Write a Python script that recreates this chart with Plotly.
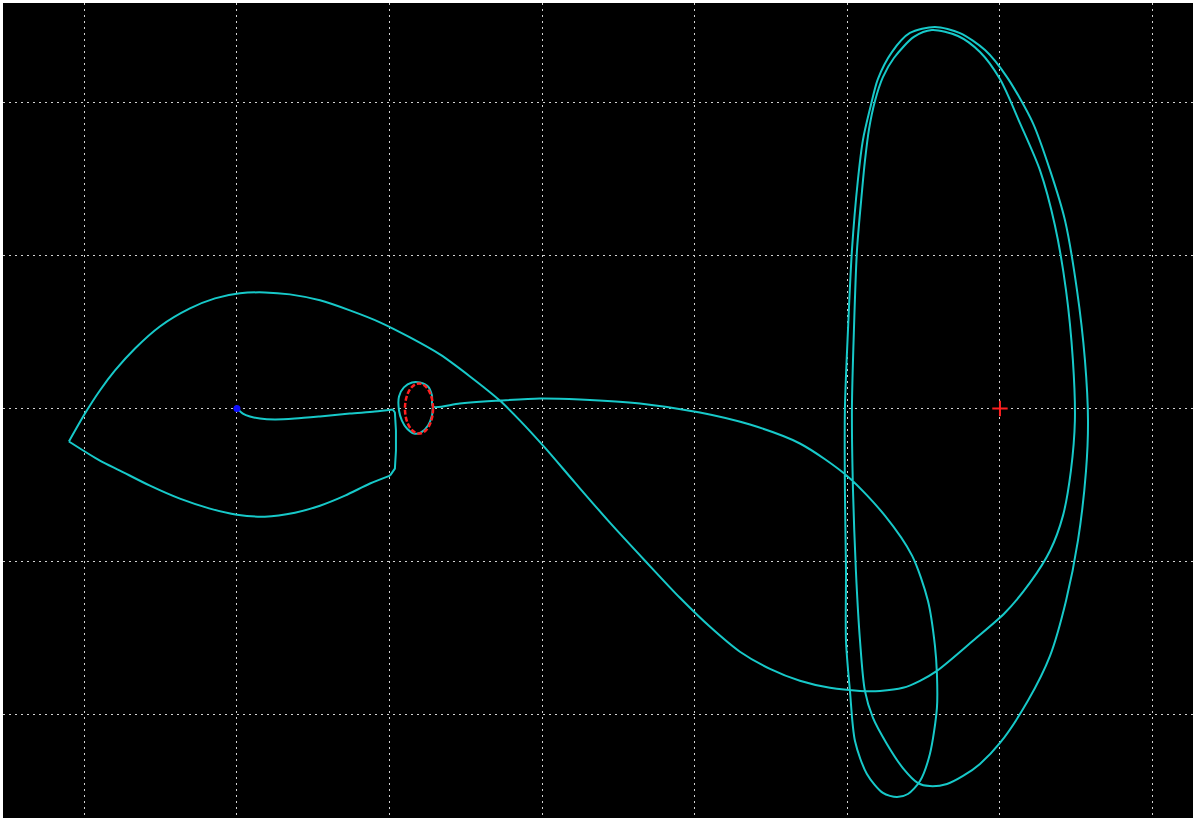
import plotly.graph_objects as go

# Trajectory legs in the rotating frame (grid unit = 1), Earth at origin.
# Leg 1: departure from Earth towards the parking orbit
leg1_x = [0.000, 0.039, 0.085, 0.151, 0.249, 0.380, 0.544, 0.740, 0.904, 1.022]
leg1_y = [0.000, -0.033, -0.052, -0.066, -0.072, -0.066, -0.052, -0.033, -0.020, -0.007]

# Leg 2: short drop below the orbit
leg2_x = [1.022, 1.035, 1.042, 1.042, 1.035, 1.003]
leg2_y = [-0.007, -0.026, -0.144, -0.275, -0.393, -0.439]

# Leg 3: lower arc back to the westward turning point
leg3_x = [1.003, 0.872, 0.708, 0.544, 0.380, 0.183, 0.000, -0.177, -0.374, -0.570,
          -0.767, -0.898, -1.101]
leg3_y = [-0.439, -0.491, -0.570, -0.636, -0.682, -0.708, -0.695, -0.655, -0.590, -0.505,
          -0.406, -0.341, -0.216]

# Leg 4: upper arc, lunar flyby loops and return to the parking orbit
leg4_x = [
    -1.101, -0.996, -0.898, -0.799, -0.668, -0.505, -0.308, -0.144, 0.020, 0.183, 0.347,
    0.544, 0.740, 0.937, 1.134, 1.330, 1.527, 1.723, 1.855, 2.018, 2.215, 2.444, 2.674,
    2.903, 3.100, 3.296, 3.493, 3.689, 3.886, 4.083, 4.214, 4.364, 4.476, 4.587, 4.823, 5.033,
    5.197, 5.328, 5.413, 5.465, 5.491, 5.478, 5.433, 5.360, 5.262, 5.131, 5.000, 4.869,
    4.725, 4.554,
    4.436, 4.305, 4.233, 4.181, 4.142, 4.115, 4.096, 4.063, 4.043, 4.030, 4.037, 4.056,
    4.083, 4.115, 4.168, 4.259, 4.364, 4.463, 4.541, 4.653, 4.758, 4.869, 5.000, 5.183,
    5.328, 5.433, 5.511, 5.564, 5.577, 5.557, 5.505, 5.426, 5.328, 5.216, 5.046, 4.902,
    4.738, 4.574,
    4.410, 4.292, 4.200, 4.148, 4.102, 4.069, 4.030, 4.004, 3.984, 3.984, 3.991, 3.991,
    4.017, 4.050, 4.128, 4.233, 4.325, 4.397, 4.476, 4.541, 4.587, 4.587, 4.574, 4.528,
    4.424, 4.246, 4.004, 3.689, 3.362, 3.034, 2.641, 2.248, 1.986, 1.723, 1.461, 1.284,
    1.278, 1.252, 1.199, 1.147, 1.094, 1.062, 1.062, 1.081, 1.114, 1.160, 1.206, 1.252,
    1.278, 1.284,
]
leg4_y = [
    -0.216, -0.033, 0.118, 0.249, 0.393, 0.537, 0.655, 0.721, 0.754, 0.760, 0.747,
    0.708, 0.642, 0.564, 0.465, 0.354, 0.210, 0.052, -0.079, -0.256, -0.485, -0.747, -0.996,
    -1.239, -1.429, -1.592, -1.704, -1.782, -1.828, -1.848, -1.848, -1.828, -1.782, -1.717, -1.520, -1.337,
    -1.140, -0.931, -0.701, -0.406, -0.079, 0.315, 0.773, 1.199, 1.560, 1.868, 2.156, 2.333,
    2.438, 2.477,
    2.432, 2.294, 2.169, 2.013, 1.829, 1.619, 1.422, 1.035, 0.511, 0.000, -0.537, -1.062,
    -1.520, -1.848, -2.025, -2.195, -2.353, -2.451, -2.471, -2.457, -2.405, -2.326, -2.189, -1.913,
    -1.619, -1.258, -0.865, -0.406, -0.079, 0.315, 0.773, 1.232, 1.560, 1.868, 2.169, 2.346,
    2.457, 2.497,
    2.458, 2.333, 2.156, 1.960, 1.757, 1.494, 1.035, 0.511, 0.000, -0.537, -1.062, -1.520,
    -1.848, -2.176, -2.392, -2.516, -2.543, -2.523, -2.438, -2.261, -1.959, -1.737, -1.553, -1.258,
    -0.963, -0.701, -0.446, -0.229, -0.105, -0.026, 0.033, 0.059, 0.066, 0.052, 0.033, 0.013,
    0.085, 0.144, 0.170, 0.170, 0.138, 0.079, -0.013, -0.079, -0.131, -0.164, -0.157, -0.111,
    -0.046, 0.013,
]

# Bodies
earth_xy = (0.0, 0.0)
moon_xy = (5.0, 0.0)

# Parking orbit ellipse: centre and semi-axes
orbit_center = (1.193, 0.0)
orbit_radii = (0.092, 0.164)

x_range = [-1.533, 6.265]
y_range = [-2.680, 2.654]

TRAJ_COLOR = "#17c9c9"

fig = go.Figure()

legs = [
    (leg1_x, leg1_y, "spline"),
    (leg2_x, leg2_y, "linear"),
    (leg3_x, leg3_y, "spline"),
    (leg4_x, leg4_y, "spline"),
]
for lx, ly, shape in legs:
    fig.add_trace(go.Scatter(
        x=lx, y=ly, mode="lines",
        line=dict(color=TRAJ_COLOR, width=2, shape=shape, smoothing=0.8),
        hoverinfo="skip", showlegend=False,
    ))

fig.add_trace(go.Scatter(
    x=[earth_xy[0]], y=[earth_xy[1]], mode="markers",
    marker=dict(color="#1010ff", size=7, symbol="circle"),
    showlegend=False,
))

fig.add_trace(go.Scatter(
    x=[moon_xy[0]], y=[moon_xy[1]], mode="markers",
    marker=dict(color="#ff2020", size=11, symbol="cross-thin",
                line=dict(color="#ff2020", width=2)),
    showlegend=False,
))

fig.add_shape(
    type="circle", xref="x", yref="y", layer="above",
    x0=orbit_center[0] - orbit_radii[0], x1=orbit_center[0] + orbit_radii[0],
    y0=orbit_center[1] - orbit_radii[1], y1=orbit_center[1] + orbit_radii[1],
    line=dict(color="#ff2020", width=2.5, dash="5px,2px"),
)

axis_common = dict(
    showgrid=True, gridcolor="#d2d2d2", gridwidth=1, griddash="2px,4px",
    zeroline=False, showticklabels=False, ticks="", showline=False,
    dtick=1, tick0=0, fixedrange=True,
)

fig.update_xaxes(range=x_range, **axis_common)
fig.update_yaxes(range=y_range, **axis_common)

fig.update_layout(
    width=1193, height=821,
    margin=dict(l=3, r=0, t=3, b=3, pad=0),
    paper_bgcolor="white", plot_bgcolor="black",
    showlegend=False,
)

fig.write_html("out.html")
